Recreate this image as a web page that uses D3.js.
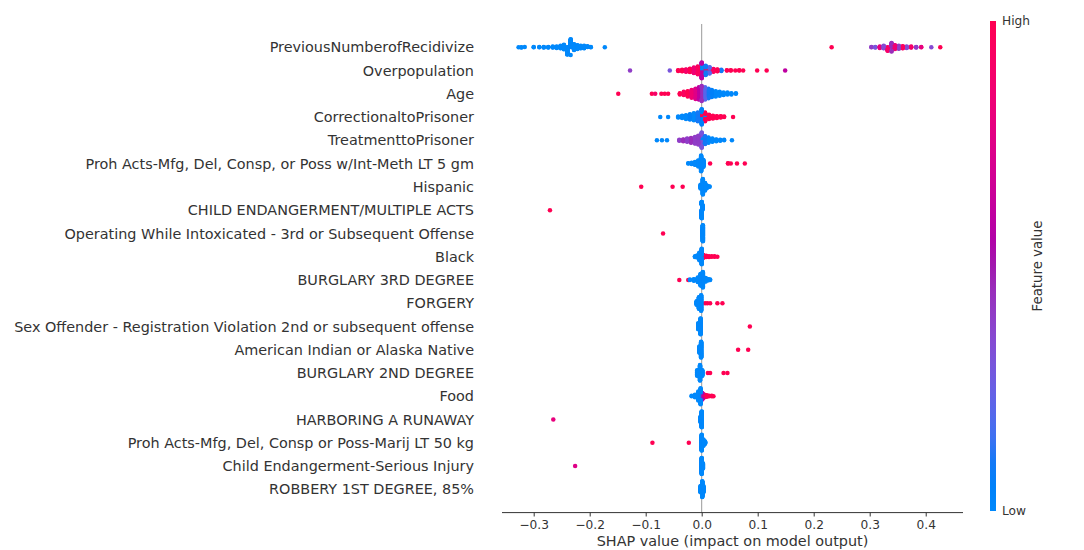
<!DOCTYPE html>
<html><head><meta charset="utf-8">
<script src="https://cdn.jsdelivr.net/npm/d3@7"></script>
<style>body{margin:0;background:#fff}svg{display:block;font-family:"DejaVu Sans",sans-serif}</style>
</head><body><svg id="c" width="1084" height="550"></svg>
<script>
// Feature names, top to bottom
const features = [
  "PreviousNumberofRecidivize","Overpopulation","Age","CorrectionaltoPrisoner","TreatmenttoPrisoner",
  "Proh Acts-Mfg, Del, Consp, or Poss w/Int-Meth LT 5 gm","Hispanic","CHILD ENDANGERMENT/MULTIPLE ACTS",
  "Operating While Intoxicated - 3rd or Subsequent Offense","Black","BURGLARY 3RD DEGREE","FORGERY",
  "Sex Offender - Registration Violation 2nd or subsequent offense","American Indian or Alaska Native",
  "BURGLARY 2ND DEGREE","Food","HARBORING A RUNAWAY","Proh Acts-Mfg, Del, Consp or Poss-Marij LT 50 kg",
  "Child Endangerment-Serious Injury","ROBBERY 1ST DEGREE, 85%"
];
// each entry: [SHAP value, number of points, feature value (0 low .. 1 high)]
const prevRecid = [[-0.327,1,0],[-0.322,2,0],[-0.316,1,0],[-0.300,2,0],[-0.290,2,0],[-0.282,3,0],[-0.274,3,0],[-0.266,4,0],
  [-0.259,5,0],[-0.252,8,0],[-0.246,14,0],[-0.240,22,0],[-0.234,24,0],[-0.228,18,0],[-0.222,12,0],[-0.216,8,0],
  [-0.210,5,0],[-0.204,3,0],[-0.198,2,0],[-0.173,1,0],
  [0.232,1,1],[0.303,2,0.4],[0.310,3,0.3],[0.318,5,0.8],[0.325,8,0.35],[0.332,11,0.9],[0.339,14,0.45],[0.345,12,0.85],
  [0.352,9,0.4],[0.359,7,0.95],[0.366,5,0.35],[0.374,4,0.9],[0.383,3,0.4],[0.392,2,0.8],[0.410,1,0.35],[0.426,1,1]];
const overpop = [[-0.128,1,0.4],[-0.057,1,0.3],[-0.042,3,1],[-0.035,5,1],[-0.028,7,0.9],[-0.021,10,1],[-0.014,16,0.85],
  [-0.007,22,0.95],[0.0,26,0.6],[0.0,18,0],[0.007,18,0.1],[0.007,8,1],[0.014,12,0.2],[0.014,6,1],[0.021,8,0.95],
  [0.028,6,1],[0.035,4,0.1],[0.045,2,1],[0.052,2,1],[0.060,1,1],[0.067,2,1],[0.074,1,1],[0.099,1,1],[0.116,1,1],[0.149,1,0.6]];
const age = [[-0.149,1,1],[-0.089,1,1],[-0.083,1,0.9],[-0.072,1,1],[-0.066,1,1],[-0.060,1,1],[-0.039,3,1],[-0.032,6,0.95],
  [-0.025,9,1],[-0.018,13,0.85],[-0.011,17,0.75],[-0.005,20,0.6],[0.0,24,0.45],[0.006,20,0.2],[0.012,16,0.1],
  [0.018,12,0.05],[0.025,9,0],[0.032,7,0],[0.039,5,0],[0.046,4,0],[0.053,3,0],[0.061,2,0]];
const correctional = [[-0.074,1,0],[-0.060,1,0],[-0.042,3,0],[-0.035,6,0],[-0.028,9,0],[-0.021,12,0.05],[-0.014,16,0],
  [-0.007,20,0.1],[0.0,24,0.05],[0.0,10,1],[0.006,14,1],[0.006,6,0],[0.013,10,1],[0.020,7,1],[0.027,5,1],[0.034,4,1],
  [0.040,2,1],[0.056,1,1]];
const treatment = [[-0.080,1,0],[-0.071,1,0],[-0.062,1,0],[-0.040,3,0.4],[-0.033,5,0.45],[-0.026,8,0.4],[-0.019,11,0.45],
  [-0.012,15,0.4],[-0.006,20,0.4],[0.0,24,0.3],[0.0,10,0],[0.006,18,0.1],[0.012,12,0],[0.019,8,0],[0.026,5,0],
  [0.033,3,0],[0.040,2,0],[0.054,1,0]];
const meth = [[-0.024,2,0],[-0.018,4,0],[-0.012,8,0],[-0.006,16,0],[-0.001,40,0],[0.003,18,0],[0.015,1,1],[0.047,2,1],
  [0.052,1,1],[0.063,1,1],[0.077,1,1]];
const hispanic = [[-0.108,1,1],[-0.052,1,1],[-0.034,1,1],[-0.002,10,0],[0.002,40,0],[0.006,20,0],[0.010,6,0],[0.014,2,0]];
const childMulti = [[-0.271,1,1],[0.000,60,0],[0.001,30,0]];
const owi = [[-0.069,1,1],[0.001,20,0],[0.002,60,0]];
const black = [[-0.012,3,0],[-0.008,6,0],[-0.004,20,0],[0.0,40,0],[0.003,8,1],[0.008,4,1],[0.013,3,1],[0.018,2,1],
  [0.023,2,1],[0.028,1,1]];
const burg3 = [[-0.040,1,1],[-0.024,1,1],[-0.021,2,0],[-0.014,5,0],[-0.007,12,0],[-0.002,30,0],[0.002,40,0],[0.007,10,0],
  [0.012,4,0],[0.015,2,0]];
const forgery = [[-0.009,10,0],[-0.005,30,0],[-0.001,40,0],[0.006,1,1],[0.010,1,1],[0.015,1,1],[0.028,1,1],[0.037,1,1]];
const sexOff = [[-0.006,20,0],[-0.002,50,0],[0.086,1,1]];
const amInd = [[-0.004,20,0],[-0.001,50,0],[0.065,1,1],[0.083,1,1]];
const burg2 = [[-0.008,15,0],[-0.003,40,0],[0.001,15,0],[0.011,1,1],[0.015,1,1],[0.039,1,1],[0.046,1,1]];
const food = [[-0.018,2,0],[-0.012,6,0],[-0.006,20,0],[-0.002,35,0],[0.001,15,0.55],[0.002,10,1],[0.005,6,1],
  [0.009,4,1],[0.013,2,1],[0.018,2,1],[0.021,1,1]];
const harboring = [[-0.265,1,0.8],[-0.002,20,0],[0.0,60,0]];
const marij = [[-0.088,1,1],[-0.023,1,1],[0.0,50,0],[0.003,20,0],[0.006,8,0]];
const childInjury = [[-0.226,1,0.75],[0.0,60,0],[0.002,20,0]];
const robbery = [[-0.002,20,0],[0.001,50,0],[0.003,20,0]];
const rowData = [prevRecid,overpop,age,correctional,treatment,meth,hispanic,childMulti,owi,black,burg3,forgery,
  sexOff,amInd,burg2,food,harboring,marij,childInjury,robbery];
const xTicks = [-0.3,-0.2,-0.1,0.0,0.1,0.2,0.3,0.4];

const svg = d3.select("#c");
const n = features.length;
const x = d3.scaleLinear().domain([-0.3566,0.4666]).range([502,963]);
const y = d3.scaleLinear().domain([-1,n]).range([512.6,24]);

// shap red_blue colormap (LCh interpolation)
function cmap(t){
  const L = t<0.5 ? 54+(40-54)*(t/0.5) : 40+(54-40)*((t-0.5)/0.5);
  const C = 70+20*t;
  const H = 266.93+(380.32-266.93)*t;
  return d3.hcl(H%360,C,L).formatHex();
}

// zero line
svg.append("line").attr("x1",x(0)).attr("x2",x(0)).attr("y1",y(n)).attr("y2",y(-1))
  .attr("stroke","#999").attr("stroke-width",1);

function swarm(groups){
  const pts=[]; const rem=groups.map(g=>g[1]); let any=true;
  while(any){any=false; groups.forEach((g,i)=>{ if(rem[i]>0){pts.push({v:g[0],f:g[2]}); rem[i]--; any=true;}});}
  const mn=d3.min(pts,p=>p.v), mx=d3.max(pts,p=>p.v);
  pts.forEach((p,i)=>{p.q=Math.round(100*(p.v-mn)/(mx-mn+1e-8)); p.i=i;});
  const order=pts.slice().sort((a,b)=>a.q-b.q||a.i-b.i);
  let layer=0,last=-1;
  order.forEach(p=>{ if(p.q!==last) layer=0; p.o=Math.ceil(layer/2)*((layer%2)*2-1); layer++; last=p.q;});
  const m=d3.max(pts,p=>p.o+1);
  pts.forEach(p=>p.o*=0.9*(0.4/m));
  return pts;
}

const gDots = svg.append("g");
rowData.forEach((groups,i)=>{
  const pos = n-1-i;
  const pts = swarm(groups);
  gDots.selectAll(null).data(pts).enter().append("circle")
    .attr("cx",d=>x(d.v)).attr("cy",d=>y(pos+d.o)).attr("r",2.25)
    .attr("fill",d=>cmap(d.f));
});

// feature labels
const yAxis = d3.axisLeft(y).tickValues(d3.range(n)).tickFormat(d=>features[n-1-d]).tickSize(0).tickPadding(28);
const gy = svg.append("g").attr("transform","translate(502,0)").call(yAxis);
gy.select(".domain").remove();
gy.selectAll("text").attr("font-size",14.4).attr("fill","#333").attr("font-family","DejaVu Sans");

// x axis
const xAxis = d3.axisBottom(x).tickValues(xTicks).tickSize(3.9).tickPadding(3.9)
  .tickFormat(d=>d3.format(".1f")(d).replace("-","\u2212"));
const gx = svg.append("g").attr("transform","translate(0,512.6)").call(xAxis);
gx.select(".domain").attr("stroke","#333").attr("d","M502,0H963");
gx.selectAll(".tick line").attr("stroke","#333");
gx.selectAll("text").attr("font-size",12.2).attr("fill","#333").attr("font-family","DejaVu Sans");
svg.append("text").attr("x",732.5).attr("y",546).attr("text-anchor","middle").attr("font-size",14.4)
  .attr("fill","#333").text("SHAP value (impact on model output)");

// colorbar
const cbY = d3.scaleLinear().domain([0,1]).range([511,21]);
const defs = svg.append("defs");
const grad = defs.append("linearGradient").attr("id","cb").attr("x1",0).attr("y1",1).attr("x2",0).attr("y2",0);
d3.range(0,1.0001,0.05).forEach(t=>grad.append("stop").attr("offset",t).attr("stop-color",cmap(t)));
svg.append("rect").attr("x",990).attr("y",cbY(1)).attr("width",6).attr("height",cbY(0)-cbY(1)).attr("fill","url(#cb)");
svg.append("text").attr("x",1002).attr("y",cbY(1)).attr("dy","0.35em").attr("font-size",12.2).attr("fill","#333").text("High");
svg.append("text").attr("x",1002).attr("y",cbY(0)).attr("dy","0.35em").attr("font-size",12.2).attr("fill","#333").text("Low");
svg.append("text").attr("transform","translate(1042,266) rotate(-90)").attr("text-anchor","middle")
  .attr("font-size",13.3).attr("fill","#333").text("Feature value");
</script></body></html>
